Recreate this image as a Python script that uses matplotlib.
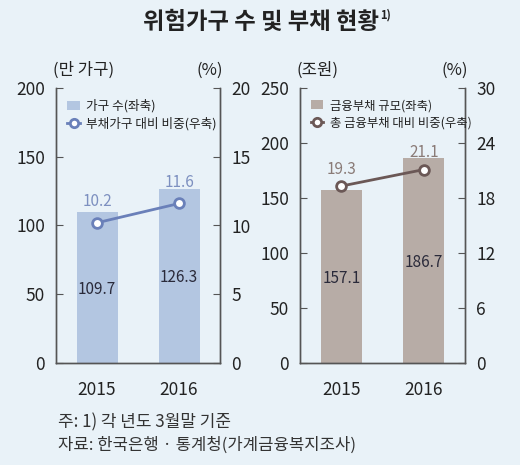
import matplotlib
matplotlib.use("Agg")
import matplotlib.pyplot as plt
from matplotlib.lines import Line2D
from matplotlib.patches import Patch

plt.rcParams['font.family'] = ['Noto Sans CJK KR', 'DejaVu Sans']

years = ['2015', '2016']
households = [109.7, 126.3]          # 만 가구 (left axis)
hh_share = [10.2, 11.6]              # % (right axis)
debt = [157.1, 186.7]                # 조원 (left axis)
debt_share = [19.3, 21.1]            # % (right axis)

left_ticks = [0, 50, 100, 150, 200]
left_rticks = [0, 5, 10, 15, 20]
right_ticks = [0, 50, 100, 150, 200, 250]
right_rticks = [0, 6, 12, 18, 24, 30]

BG = '#e9f2f8'
fig = plt.figure(figsize=(5.2, 4.65), dpi=100, facecolor=BG)

W, H = 520, 465
def ax_rect(x0, x1, ytop, ybot):
    return [x0 / W, 1 - ybot / H, (x1 - x0) / W, (ybot - ytop) / H]

spine_c = '#555555'

def panel(rect, bars, line, lt, rt, bar_c, line_c, lab_c, leg_bar, leg_line, bar_lab_frac, line_lab_off, legfs):
    ax = fig.add_axes(rect)
    ax.set_facecolor(BG)
    x = list(range(len(years)))
    ax.bar(x, bars, width=0.5, color=bar_c, zorder=1)
    ax.set_xlim(-0.5, 1.5)
    ax.set_ylim(lt[0], lt[-1])
    ax.set_yticks(lt)
    ax.set_xticks(x)
    ax.set_xticklabels(years)
    ax2 = ax.twinx()
    ax2.set_ylim(rt[0], rt[-1])
    ax2.set_yticks(rt)
    ax2.plot(x, line, color=line_c, lw=2, marker='o', ms=7, mfc='white', mec=line_c, mew=2, zorder=3)
    for a in (ax, ax2):
        a.spines['top'].set_visible(False)
        for s in ('left', 'right', 'bottom'):
            a.spines[s].set_color(spine_c)
            a.spines[s].set_linewidth(1)
        a.tick_params(direction='in', length=5, color=spine_c, labelsize=12.5, labelcolor='#222222', pad=8)
    ax.tick_params(axis='x', length=0, pad=13)
    for xi, v, fr in zip(x, bars, bar_lab_frac):
        ax.text(xi, v * fr, f'{v}', ha='center', va='center', fontsize=11, color='#2a2a3a')
    for xi, v in zip(x, line):
        ax2.text(xi, v + line_lab_off, f'{v}', ha='center', va='bottom', fontsize=11, color=lab_c)
    handles = [Patch(facecolor=bar_c, edgecolor='none'),
               Line2D([0], [0], color=line_c, lw=2, marker='o', ms=6, mfc='white', mec=line_c, mew=2)]
    leg = ax2.legend(handles, [leg_bar, leg_line], loc='upper left', bbox_to_anchor=(0.0, 1.0),
                     frameon=False, fontsize=legfs, handlelength=1.0, handletextpad=0.5,
                     labelspacing=0.35, borderaxespad=0.5)
    for t in leg.get_texts():
        t.set_color('#222222')
    return ax, ax2

panel(ax_rect(56, 220, 88, 363), households, hh_share, left_ticks, left_rticks,
      '#b3c6e1', '#6a80b9', '#7d90c0', '가구 수(좌축)', '부채가구 대비 비중(우축)',
      [0.485, 0.49], 0.9, 9.1)
panel(ax_rect(300, 465, 88, 363), debt, debt_share, right_ticks, right_rticks,
      '#b7aca6', '#6b5856', '#8a7b77', '금융부채 규모(좌축)', '총 금융부채 대비 비중(우축)',
      [0.49, 0.49], 0.9, 8.9)

title = fig.text(143 / W, 1 - 22 / H, '위험가구 수 및 부채 현황', ha='left', va='center',
                 fontsize=16.8, fontweight='bold', color='#222222')
fig.canvas.draw()
bb = title.get_window_extent(renderer=fig.canvas.get_renderer())
fig.text((bb.x1 + 1) / W, 1 - 15 / H, '1)', ha='left', va='center',
         fontsize=8, fontweight='bold', color='#222222')
fig.text(84 / W, 1 - 70 / H, '(만 가구)', ha='center', va='center', fontsize=12, color='#222222')
fig.text(210 / W, 1 - 70 / H, '(%)', ha='center', va='center', fontsize=12, color='#222222')
fig.text(318 / W, 1 - 70 / H, '(조원)', ha='center', va='center', fontsize=12, color='#222222')
fig.text(455 / W, 1 - 70 / H, '(%)', ha='center', va='center', fontsize=12, color='#222222')
fig.text(58 / W, 1 - 422 / H, '주: 1) 각 년도 3월말 기준', ha='left', va='center', fontsize=12.2, color='#333333')
fig.text(58 / W, 1 - 445 / H, '자료: 한국은행 · 통계청(가계금융복지조사)', ha='left', va='center', fontsize=12, color='#333333')

fig.savefig('out.png', dpi=100, facecolor=BG)
